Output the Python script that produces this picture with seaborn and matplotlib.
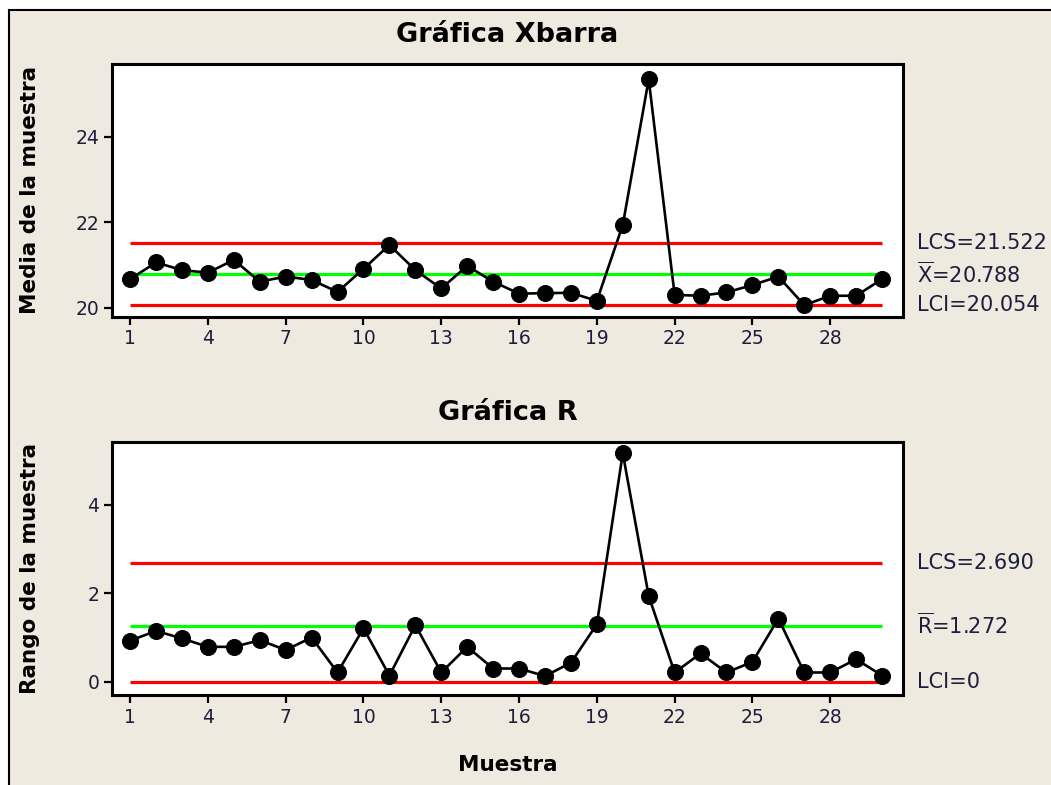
import numpy as np
import pandas as pd
import matplotlib
matplotlib.use('Agg')
import matplotlib.pyplot as plt
import matplotlib.transforms as mtransforms
from matplotlib.patches import Rectangle
import seaborn as sns

# Datos
muestra = list(range(1, 31))
medias = [20.67, 21.06, 20.88, 20.82, 21.12, 20.61, 20.73, 20.65, 20.37, 20.91,
          21.47, 20.88, 20.45, 20.98, 20.61, 20.33, 20.34, 20.35, 20.16, 21.94,
          25.35, 20.30, 20.28, 20.36, 20.53, 20.73, 20.06, 20.28, 20.28, 20.67]
rangos = [0.93, 1.15, 0.98, 0.79, 0.79, 0.94, 0.72, 1.00, 0.21, 1.21,
          0.14, 1.28, 0.21, 0.79, 0.30, 0.30, 0.13, 0.43, 1.30, 5.17,
          1.94, 0.21, 0.64, 0.21, 0.45, 1.43, 0.21, 0.21, 0.51, 0.14]
xbar_limites = [21.522, 20.788, 20.054]   # LCS, centro, LCI
r_limites = [2.690, 1.272, 0.0]
xbar_etiquetas = ['LCS=21.522', r'$\overline{\mathrm{X}}$=20.788', 'LCI=20.054']
r_etiquetas = ['LCS=2.690', r'$\overline{\mathrm{R}}$=1.272', 'LCI=0']
xticks = [1, 4, 7, 10, 13, 16, 19, 22, 25, 28]

df = pd.DataFrame({'Muestra': muestra, 'Media': medias, 'Rango': rangos})

sns.set_theme(style='ticks')
plt.rcParams['font.family'] = ['DejaVu Sans']
plt.rcParams['mathtext.fontset'] = 'dejavusans'

texto = '#1e1e3c'
fondo = '#eeeae0'

fig = plt.figure(figsize=(10.51, 7.85), dpi=100, facecolor='white')
fig.add_artist(Rectangle((8.5 / 1051, -0.05), 1.2, 1.05 - 9.5 / 785,
                         transform=fig.transFigure, facecolor=fondo,
                         edgecolor='black', linewidth=1.5, zorder=-10))

ax1 = fig.add_axes([0.1063, 0.5966, 0.7532, 0.3219])
ax2 = fig.add_axes([0.1063, 0.1146, 0.7532, 0.3227])


def carta(ax, col, limites, etiquetas, titulo, ylabel, ylim, yticks):
    ax.set_facecolor('white')
    ax.hlines(limites[0], 1, 30, color='#ff0000', linewidth=2.3, zorder=1)
    ax.hlines(limites[1], 1, 30, color='#00ff00', linewidth=2.3, zorder=1)
    ax.hlines(limites[2], 1, 30, color='#ff0000', linewidth=2.3, zorder=1)
    sns.lineplot(data=df, x='Muestra', y=col, ax=ax, color='black', linewidth=1.9,
                 marker='o', markersize=11.5, markeredgecolor='black', zorder=3)
    ax.set_xlim(0.29, 30.82)
    ax.set_ylim(*ylim)
    ax.set_xticks(xticks)
    ax.set_yticks(yticks)
    ax.tick_params(direction='out', length=6, width=1.6, labelsize=13.5,
                   colors='black', labelcolor=texto, pad=3)
    for s in ax.spines.values():
        s.set_linewidth(2.2)
        s.set_color('black')
    ax.set_title(titulo, fontsize=19.5, fontweight='bold', color='black',
                 y=1.115, pad=0, va='center')
    ax.set_ylabel(ylabel, fontsize=15.5, fontweight='bold', color='black')
    ax.yaxis.set_label_coords(-0.09, 0.5)
    ax.set_xlabel('')
    trans = mtransforms.blended_transform_factory(ax.transAxes, ax.transData)
    for v, t in zip(limites, etiquetas):
        ax.text(1.017, v, t, transform=trans, va='center', ha='left',
                fontsize=15, color=texto)


carta(ax1, 'Media', xbar_limites, xbar_etiquetas, 'Gráfica Xbarra',
      'Media de la muestra', (19.79, 25.71), [20, 22, 24])
carta(ax2, 'Rango', r_limites, r_etiquetas, 'Gráfica R',
      'Rango de la muestra', (-0.30, 5.43), [0, 2, 4])

ax2.set_xlabel('Muestra', fontsize=15.5, fontweight='bold', color='black')
ax2.xaxis.set_label_coords(0.5, -0.276)
ax2.xaxis.label.set_va('center')

fig.savefig('out.png', dpi=100, facecolor=fig.get_facecolor())
